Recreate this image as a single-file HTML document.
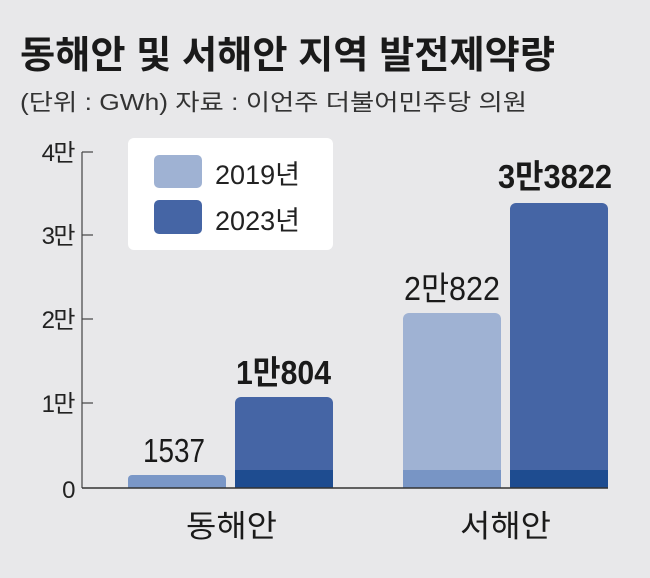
<!DOCTYPE html><html><head><meta charset="utf-8"><style>
body{margin:0;background:#e8e8ea;}
svg text{font-family:"Liberation Sans","Noto Sans CJK KR",sans-serif;}
</style></head><body>
<svg width="650" height="573" viewBox="0 0 650 573" xmlns="http://www.w3.org/2000/svg">
<rect width="650" height="573" fill="#e8e8ea"/>
<text x="20" y="68" font-size="38" font-weight="bold" fill="#1a1a1a" textLength="535" lengthAdjust="spacingAndGlyphs">동해안 및 서해안 지역 발전제약량</text>
<text x="20" y="110" font-size="23" fill="#333" textLength="507" lengthAdjust="spacingAndGlyphs">(단위 : GWh)   자료 : 이언주 더불어민주당 의원</text>
<g stroke="#444" stroke-width="1.2">
<line x1="82" y1="152" x2="82" y2="488"/>
<line x1="82" y1="152" x2="93" y2="152"/><line x1="82" y1="235" x2="93" y2="235"/>
<line x1="82" y1="319" x2="93" y2="319"/><line x1="82" y1="403" x2="93" y2="403"/>
</g>
<g font-size="24" fill="#222" text-anchor="end" letter-spacing="-1.5">
<text x="74" y="161">4만</text><text x="74" y="244">3만</text><text x="74" y="328">2만</text><text x="74" y="412">1만</text><text x="74" y="498">0</text>
</g>
<rect x="128" y="138" width="205" height="112" rx="6" fill="#fff"/>
<rect x="154" y="155" width="48" height="33" rx="5" fill="#9fb2d3"/>
<rect x="154" y="200" width="48" height="34" rx="5" fill="#4565a5"/>
<g font-size="27" fill="#222"><text x="215" y="184" textLength="85" lengthAdjust="spacingAndGlyphs">2019년</text><text x="215" y="230" textLength="85" lengthAdjust="spacingAndGlyphs">2023년</text></g>
<path d="M128 488V479a4 4 0 0 1 4-4h90a4 4 0 0 1 4 4V488z" fill="#7a97c7"/>
<path d="M235 488V403a6 6 0 0 1 6-6h86a6 6 0 0 1 6 6V488z" fill="#4565a5"/>
<rect x="235" y="470" width="98" height="18" fill="#1e4c90"/>
<path d="M403 488V319a6 6 0 0 1 6-6h86a6 6 0 0 1 6 6V488z" fill="#9fb2d3"/>
<rect x="403" y="470" width="98" height="18" fill="#7895c5"/>
<path d="M510 488V209a6 6 0 0 1 6-6h86a6 6 0 0 1 6 6V488z" fill="#4565a5"/>
<rect x="510" y="470" width="98" height="18" fill="#1e4c90"/>
<line x1="82" y1="488" x2="608" y2="488" stroke="#333" stroke-width="1.5"/>
<g font-size="33" fill="#1a1a1a" lengthAdjust="spacingAndGlyphs">
<text x="143" y="462" textLength="62" lengthAdjust="spacingAndGlyphs">1537</text>
<text x="236" y="384" font-weight="bold" textLength="95" lengthAdjust="spacingAndGlyphs">1만804</text>
<text x="404" y="300" textLength="96" lengthAdjust="spacingAndGlyphs">2만822</text>
<text x="498" y="188" font-weight="bold" textLength="114" lengthAdjust="spacingAndGlyphs">3만3822</text>
</g>
<g font-size="31" fill="#1a1a1a"><text x="186" y="537" textLength="91" lengthAdjust="spacingAndGlyphs">동해안</text><text x="460" y="537" textLength="91" lengthAdjust="spacingAndGlyphs">서해안</text></g>
</svg>
</body></html>
